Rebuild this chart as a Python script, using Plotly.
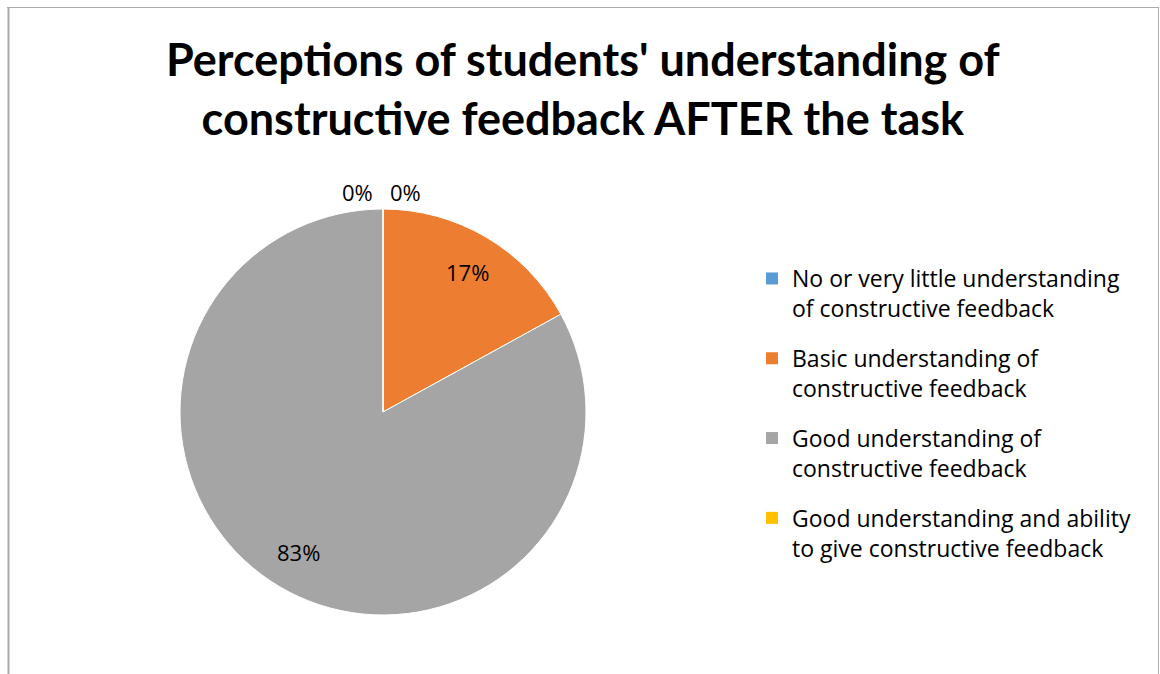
import math
import plotly.graph_objects as go

# ---- data ----
categories = [
    "No or very little understanding<br>of constructive feedback",
    "Basic understanding of<br>constructive feedback",
    "Good understanding of<br>constructive feedback",
    "Good understanding and ability<br>to give constructive feedback",
]
values = [0, 17, 83, 0]
colors = ["#5B9BD5", "#ED7D31", "#A5A5A5", "#FFC000"]
title_text = "Perceptions of students' understanding of<br>constructive feedback AFTER the task"

W, H = 1160, 674
TFONT = "Lato"
FONT = "Open Sans"


def fx(x):
    return x / W


def fy(y):
    return 1 - y / H


# pie geometry (page pixels)
cx, cy, R = 383, 412, 203

fig = go.Figure()
fig.add_trace(go.Pie(
    labels=categories,
    values=values,
    marker=dict(colors=colors, line=dict(color="white", width=1)),
    sort=False,
    direction="clockwise",
    rotation=0,
    textinfo="none",
    showlegend=False,
    domain=dict(x=[fx(cx - R), fx(cx + R)], y=[fy(cy + R), fy(cy - R)]),
    hoverinfo="label+percent",
))

# legend via dummy traces
for lab, col in zip(categories, colors):
    fig.add_trace(go.Scatter(
        x=[None], y=[None], mode="markers", name=lab, legendgroup=lab,
        marker=dict(symbol="square", size=12, color=col),
    ))

# percentage labels computed from data
total = sum(values)
annotations = []
cum = 0
for i, v in enumerate(values):
    pct = v / total * 100
    mid = (cum + v / 2) / total * 2 * math.pi
    cum += v
    if v == 0:
        side = 22 if i == 0 else -25
        px = cx + 1.085 * R * math.sin(mid) + side
        py = cy - 1.085 * R * math.cos(mid)
    else:
        px = cx + 0.82 * R * math.sin(mid)
        py = cy - 0.8 * R * math.cos(mid)
    annotations.append(dict(x=fx(px), y=fy(py), xref="paper", yref="paper",
                            text=f"{pct:.0f}%", showarrow=False,
                            xanchor="center", yanchor="middle",
                            font=dict(family=FONT, size=22, color="#000")))

annotations.append(dict(x=fx(583), y=fy(88), xref="paper", yref="paper",
                        text=title_text, showarrow=False, yanchor="middle",
                        font=dict(family=TFONT, size=45, color="#000", weight="bold")))

fig.update_layout(
    width=W, height=H,
    margin=dict(l=0, r=0, t=0, b=0),
    paper_bgcolor="white", plot_bgcolor="white",
    xaxis=dict(visible=False), yaxis=dict(visible=False),
    annotations=annotations,
    legend=dict(x=fx(752), y=fy(257), xanchor="left", yanchor="top",
                font=dict(family=FONT, size=23, color="#000"),
                valign="top",
                tracegroupgap=17, itemwidth=30, bgcolor="rgba(0,0,0,0)"),
    shapes=[
        dict(type="line", xref="paper", yref="paper", x0=fx(8.5), x1=fx(8.5), y0=0, y1=fy(7),
             line=dict(color="#ABABAB", width=2)),
        dict(type="line", xref="paper", yref="paper", x0=fx(7), x1=fx(1159), y0=fy(7.5), y1=fy(7.5),
             line=dict(color="#ABABAB", width=1)),
        dict(type="line", xref="paper", yref="paper", x0=fx(1158.5), x1=fx(1158.5), y0=0, y1=fy(7),
             line=dict(color="#ABABAB", width=1)),
    ],
)

fig.write_html("out.html", config={"displayModeBar": False},
               post_script="document.body.style.margin='0px';")
